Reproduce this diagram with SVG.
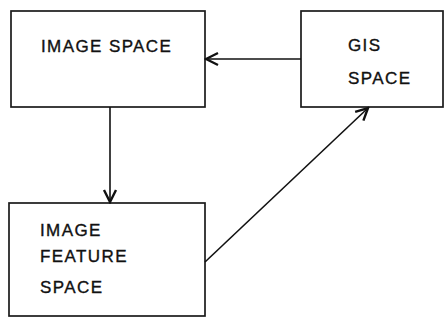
<svg xmlns="http://www.w3.org/2000/svg" width="444" height="324" viewBox="0 0 444 324">
<style>
.box{fill:#fff;stroke:#1a1a1a;stroke-width:1.7}
.lbl{font-family:"Liberation Sans",Arial,sans-serif;font-size:17px;fill:#111;stroke:#111;stroke-width:0.35;letter-spacing:1.4px}
.con{stroke:#111;stroke-width:1.6;fill:none}
</style>
<defs>
<marker id="arr" viewBox="-14 -8 16 16" markerWidth="16" markerHeight="16" refX="0" refY="0" orient="auto" markerUnits="userSpaceOnUse">
<path d="M-12,-6 L0,0 L-12,6" fill="none" stroke="#111" stroke-width="2.4"/>
</marker>
</defs>
<rect width="444" height="324" fill="#fff"/>
<g id="image-space">
<rect class="box" x="11" y="11" width="194" height="96"/>
<text class="lbl" x="41" y="52">IMAGE SPACE</text>
</g>
<g id="gis-space">
<rect class="box" x="301" y="11" width="142" height="96"/>
<text class="lbl" x="348" y="51">GIS</text>
<text class="lbl" x="348" y="84">SPACE</text>
</g>
<g id="image-feature-space">
<rect class="box" x="9" y="203" width="196" height="113"/>
<text class="lbl" x="40" y="236">IMAGE</text>
<text class="lbl" x="40" y="262">FEATURE</text>
<text class="lbl" x="40" y="293">SPACE</text>
</g>
<g id="connectors">
<line class="con" x1="301" y1="59" x2="206" y2="59" marker-end="url(#arr)"/>
<line class="con" x1="110" y1="107" x2="110" y2="202" marker-end="url(#arr)"/>
<line class="con" x1="205" y1="262" x2="368" y2="108" marker-end="url(#arr)"/>
</g>
</svg>
